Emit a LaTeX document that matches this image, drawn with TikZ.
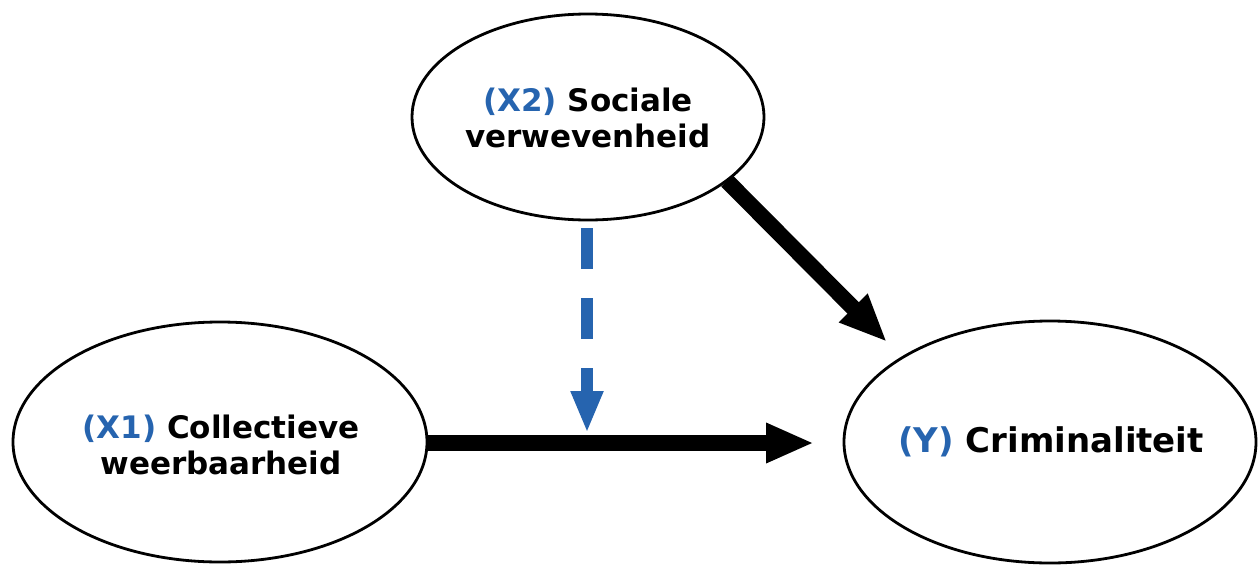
\documentclass[tikz,border=0pt]{standalone}
\usepackage{fontspec}
\setmainfont{DejaVu Sans}
\usetikzlibrary{arrows.meta}
\definecolor{varblue}{RGB}{38,100,175}
\tikzset{
  lbl/.style={font=\fontsize{31}{36}\selectfont\bfseries, align=center},
  lbly/.style={font=\fontsize{34}{40}\selectfont\bfseries, align=center},
  oval/.style={line width=2.8pt},
  mainarrow/.style={line width=16pt, -{Triangle[length=48pt, width=37pt]}},
  modarrow/.style={varblue, line width=12pt, dash pattern=on 41pt off 29pt, -{Triangle[length=42pt, width=30pt]}}
}
\begin{document}
\begin{tikzpicture}[x=1pt, y=-1pt]
\useasboundingbox (0,0) rectangle (1258,565);
\draw[oval] (588,117) ellipse [x radius=176, y radius=103];
\draw[oval] (220,442) ellipse [x radius=207, y radius=120];
\draw[oval] (1050,442) ellipse [x radius=206, y radius=121];
\node[lbl] (x2) at (588,118) {\textcolor{varblue}{(X2)} Sociale\\verwevenheid};
\node[lbl] (x1) at (221,445) {\textcolor{varblue}{(X1)} Collectieve\\weerbaarheid};
\node[lbly] (y) at (1051,442) {\textcolor{varblue}{(Y)} Criminaliteit};
\coordinate (x2e) at (727,181);
\coordinate (x2s) at (587,228);
\coordinate (x1e) at (428,443);
\coordinate (ye) at (814,443);
\coordinate (ynw) at (887,342);
\coordinate (mid) at (587,433);
\draw[mainarrow] (x1e) -- (ye);
\draw[mainarrow] (x2e) -- (ynw);
\draw[modarrow] (x2s) -- (mid);
\end{tikzpicture}
\end{document}
